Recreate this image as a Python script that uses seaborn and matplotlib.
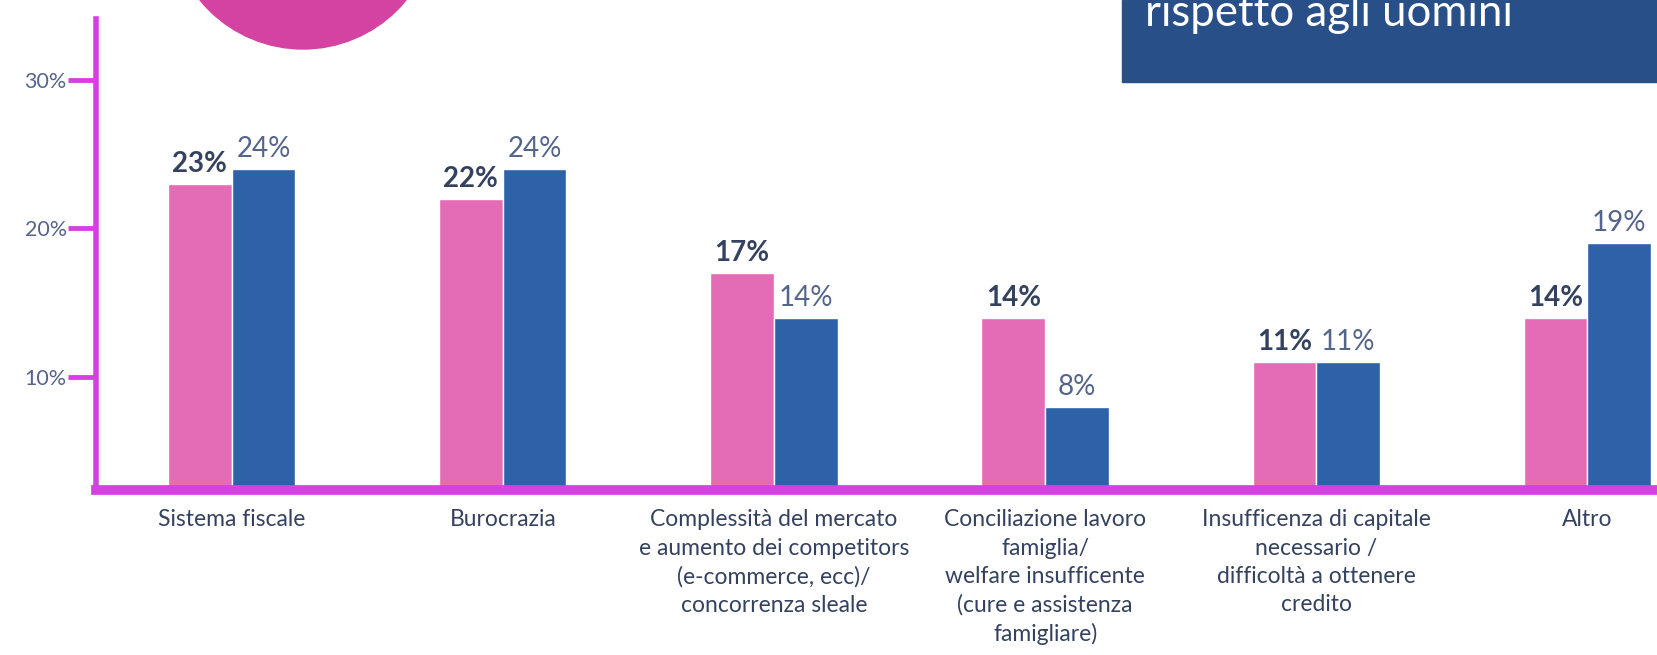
import pandas as pd
import matplotlib.pyplot as plt
import seaborn as sns
from matplotlib.patches import Ellipse, Rectangle

categorie = [
    "Sistema fiscale",
    "Burocrazia",
    "Complessità del mercato\ne aumento dei competitors\n(e-commerce, ecc)/\nconcorrenza sleale",
    "Conciliazione lavoro\nfamiglia/\nwelfare insufficente\n(cure e assistenza\nfamigliare)",
    "Insufficenza di capitale\nnecessario /\ndifficoltà a ottenere\ncredito",
    "Altro",
]
donne = [23, 22, 17, 14, 11, 14]
uomini = [24, 24, 14, 8, 11, 19]
gruppi = ["Donne", "Uomini"]
y_ticks = [10, 20, 30]

PINK = "#E46BB5"
BLUE = "#2D62A8"
MAGENTA = "#D640E2"
NAVY = "#34425F"
GREY_NAVY = "#55648A"

df = pd.DataFrame({
    "categoria": categorie * 2,
    "gruppo": [gruppi[0]] * len(donne) + [gruppi[1]] * len(uomini),
    "valore": donne + uomini,
})

sns.set_style("white")
plt.rcParams["font.family"] = ["Lato", "DejaVu Sans"]

fig = plt.figure(figsize=(16.58, 6.55), dpi=100)
ax = fig.add_axes([0.0579, 0.252, 0.9421, 0.719])

sns.barplot(data=df, x="categoria", y="valore", hue="gruppo",
            palette=[PINK, BLUE], width=0.47, gap=0, legend=False,
            saturation=1, ax=ax, zorder=2)

# etichette dei valori
for cont, vals, w, col in zip(ax.containers, [donne, uomini], ["bold", "normal"], [NAVY, GREY_NAVY]):
    ax.bar_label(cont, labels=[f"{v}%" for v in vals], padding=5,
                 fontsize=20, fontweight=w, color=col)

ax.set_xlim(-0.5, 5.26)
ax.set_ylim(2.4, 34.1)
ax.set_yticks(y_ticks)
ax.set_yticklabels([f"{t}%" for t in y_ticks])
ax.set_xlabel("")
ax.set_ylabel("")

for s in ["top", "right"]:
    ax.spines[s].set_visible(False)
ax.spines["left"].set_color(MAGENTA)
ax.spines["left"].set_linewidth(4)
ax.spines["bottom"].set_color(MAGENTA)
ax.spines["bottom"].set_linewidth(7)
ax.spines["bottom"].set_zorder(3)

ax.tick_params(axis="y", length=20, width=3.5, color=MAGENTA, pad=1,
               labelsize=15.5, labelcolor=GREY_NAVY, left=True)
ax.tick_params(axis="x", length=0, pad=14, labelsize=16.5, labelcolor=NAVY)
for lab in ax.get_xticklabels():
    lab.set_ha("center")
    lab.set_va("top")
    lab.set_linespacing(1.42)

# elementi decorativi della slide
fig.add_artist(Ellipse((303 / 1658, 1 + 84 / 655), 266 / 1658, 266 / 655,
                       transform=fig.transFigure, color="#D443A2", zorder=5))
fig.add_artist(Rectangle((1122 / 1658, 1 - 82 / 655), 1 - 1122 / 1658, 82 / 655,
                         transform=fig.transFigure, color="#284F88", zorder=5))
fig.text(1145 / 1658, 1 - 26 / 655, "rispetto agli uomini", color="white",
         fontsize=31.5, ha="left", va="baseline", zorder=6)

plt.savefig("out.png", dpi=100)
